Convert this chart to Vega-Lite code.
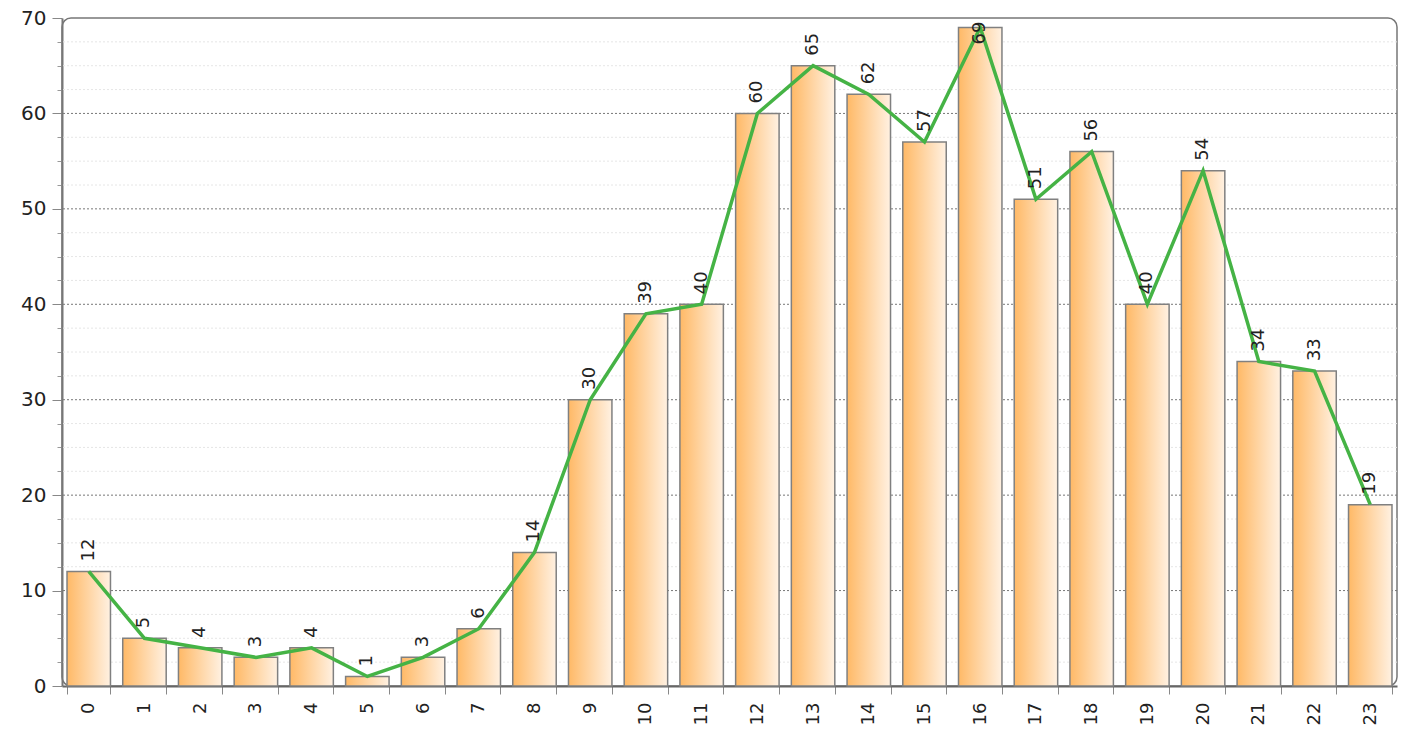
{
  "$schema": "https://vega.github.io/schema/vega-lite/v6.json",
  "autosize": "none",
  "width": 1335,
  "height": 668,
  "padding": {"left": 62, "top": 18, "right": 6, "bottom": 51},
  "background": "white",
  "config": {
    "view": {"stroke": "#777777", "strokeWidth": 1.5, "cornerRadius": 9},
    "font": "DejaVu Sans"
  },
  "data": {
    "values": [
      {"hour": "0", "count": 12}, {"hour": "1", "count": 5}, {"hour": "2", "count": 4},
      {"hour": "3", "count": 3}, {"hour": "4", "count": 4}, {"hour": "5", "count": 1},
      {"hour": "6", "count": 3}, {"hour": "7", "count": 6}, {"hour": "8", "count": 14},
      {"hour": "9", "count": 30}, {"hour": "10", "count": 39}, {"hour": "11", "count": 40},
      {"hour": "12", "count": 60}, {"hour": "13", "count": 65}, {"hour": "14", "count": 62},
      {"hour": "15", "count": 57}, {"hour": "16", "count": 69}, {"hour": "17", "count": 51},
      {"hour": "18", "count": 56}, {"hour": "19", "count": 40}, {"hour": "20", "count": 54},
      {"hour": "21", "count": 34}, {"hour": "22", "count": 33}, {"hour": "23", "count": 19}
    ]
  },
  "encoding": {
    "x": {
      "field": "hour", "type": "ordinal", "sort": null,
      "scale": {"paddingInner": 0.22, "paddingOuter": 0.09},
      "axis": {
        "title": null, "labelAngle": -90, "labelAlign": "right", "labelBaseline": "middle",
        "labelFontSize": 18, "labelColor": "#222222", "labelPadding": 8,
        "tickBand": "extent", "tickSize": 8, "tickColor": "#888888",
        "domainColor": "#666666", "domainWidth": 2, "grid": false
      }
    }
  },
  "layer": [
    {
      "mark": {"type": "rule", "strokeDash": [2, 2], "color": "#e6e6e6", "strokeWidth": 1},
      "data": {"values": [
        {"v": 2.5}, {"v": 5}, {"v": 7.5}, {"v": 12.5}, {"v": 15}, {"v": 17.5},
        {"v": 22.5}, {"v": 25}, {"v": 27.5}, {"v": 32.5}, {"v": 35}, {"v": 37.5},
        {"v": 42.5}, {"v": 45}, {"v": 47.5}, {"v": 52.5}, {"v": 55}, {"v": 57.5},
        {"v": 62.5}, {"v": 65}, {"v": 67.5}
      ]},
      "encoding": {
        "x": null,
        "y": {"field": "v", "type": "quantitative", "scale": {"domain": [0, 70], "nice": false},
          "axis": {"orient": "left", "values": [2.5,5,7.5,12.5,15,17.5,22.5,25,27.5,32.5,35,37.5,42.5,45,47.5,52.5,55,57.5,62.5,65,67.5],
            "labels": false, "tickSize": 5, "tickColor": "#999999", "domain": false, "grid": false, "title": null}}
      }
    },
    {
      "mark": {"type": "rule", "strokeDash": [2, 2], "color": "#777777", "strokeWidth": 1},
      "data": {"values": [{"v": 10}, {"v": 20}, {"v": 30}, {"v": 40}, {"v": 50}, {"v": 60}]},
      "encoding": {
        "x": null,
        "y": {"field": "v", "type": "quantitative", "scale": {"domain": [0, 70], "nice": false},
          "axis": {"orient": "left", "values": [0,10,20,30,40,50,60,70], "grid": false,
            "labelFontSize": 20, "labelColor": "#222222", "tickSize": 10, "tickColor": "#888888",
            "labelPadding": 6, "domainColor": "#777777", "domainWidth": 2, "title": null}}
      }
    },
    {
      "mark": {
        "type": "bar", "stroke": "#808080", "strokeWidth": 1.5,
        "color": {"gradient": "linear", "x1": 0, "y1": 0, "x2": 1, "y2": 0,
          "stops": [{"offset": 0, "color": "#FFB966"}, {"offset": 1, "color": "#FFF1E2"}]}
      },
      "encoding": {"y": {"field": "count", "type": "quantitative", "scale": {"domain": [0, 70], "nice": false}, "axis": null}}
    },
    {
      "mark": {"type": "line", "color": "#45B345", "strokeWidth": 3.5},
      "encoding": {"y": {"field": "count", "type": "quantitative", "axis": null}}
    },
    {
      "transform": [{"filter": "datum.count < 68"}],
      "mark": {"type": "text", "angle": 270, "align": "left", "baseline": "middle", "yOffset": -10, "fontSize": 18, "color": "#222222"},
      "encoding": {
        "y": {"field": "count", "type": "quantitative", "axis": null},
        "text": {"field": "count", "type": "quantitative"}
      }
    },
    {
      "transform": [{"filter": "datum.count >= 68"}],
      "mark": {"type": "text", "angle": 270, "align": "left", "baseline": "middle", "yOffset": 17, "fontSize": 18, "color": "#222222"},
      "encoding": {
        "y": {"field": "count", "type": "quantitative", "axis": null},
        "text": {"field": "count", "type": "quantitative"}
      }
    }
  ],
  "resolve": {"axis": {"y": "independent"}}
}
